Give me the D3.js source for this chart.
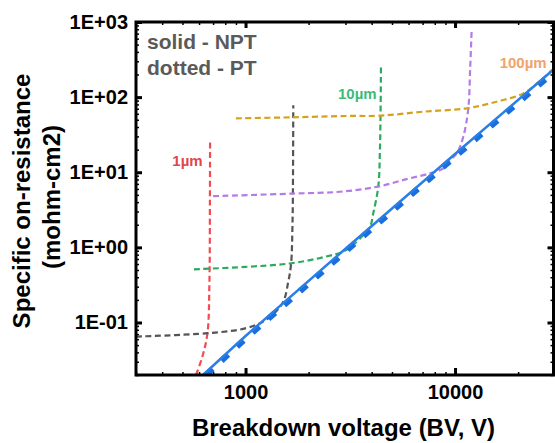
<!DOCTYPE html>
<html>
<head>
<meta charset="utf-8">
<script src="https://cdn.jsdelivr.net/npm/d3@7"></script>
<style>
    body { margin: 0; background: #fff; }
    svg { display: block; font-family: "Liberation Sans", Arial, sans-serif; }
</style>
</head>
<body>
<svg id="chart"></svg>
<script>
// ideal silicon limits (BV in V, Ron in mohm-cm2)
const nptLimit = [[626, 0.02], [1000, 0.066], [3000, 0.96], [10000, 17.5], [30000, 242]];
const ptLimit = [[648, 0.02], [1000, 0.061], [3000, 0.88], [10000, 16.1], [30000, 222]];

// PT curves for a few drift thicknesses
const pt1um = [[580, 0.02], [622, 0.035], [658, 0.072], [672, 0.32], [676, 4.3], [677, 25.5]];
const pt3um = [[300, 0.065], [660, 0.072], [1005, 0.084], [1250, 0.108], [1500, 0.18],
    [1600, 0.35], [1650, 0.61], [1675, 2], [1682, 4.3], [1690, 78]];
const pt10um = [[567, 0.51], [1000, 0.55], [1620, 0.61], [2400, 0.75], [3020, 0.92], [3650, 1.46],
    [3930, 1.88], [4070, 2.84], [4300, 6.4], [4380, 19.8], [4430, 254]];
const pt30um = [[700, 4.8], [1690, 5.2], [2820, 5.5], [4230, 6.4], [5880, 8.1], [7600, 9.7],
    [8800, 11.3], [9460, 14.5], [10200, 17.9], [10950, 29.7], [11570, 71], [11800, 230], [12000, 780]];
const pt100um = [[900, 52.2], [1680, 53.9], [3017, 56.1], [4383, 56.6], [7056, 64], [11370, 71],
    [15800, 86.9], [21180, 112], [25440, 165], [30000, 250]];

const yTickValues = [0.1, 1, 10, 100, 1000];
const yTickLabels = ["1E-01", "1E+00", "1E+01", "1E+02", "1E+03"];
const xTickValues = [1000, 10000];
const xTickLabels = ["1000", "10000"];

const svg = d3.select('#chart')
    .attr('width', 555)
    .attr('height', 443);

svg.append('rect').attr('width', 555).attr('height', 443).attr('fill', '#fff');

const margins = {top: 22, right: 0, bottom: 68, left: 136};
const width = 555 - margins.left - margins.right;
const height = 443 - margins.top - margins.bottom;

const x = d3.scaleLog().domain([300, 30000]).range([0, width]);
const y = d3.scaleLog().domain([0.02, 1000]).range([height, 0]);

const isDecade = v => Math.abs(Math.log10(v) - Math.round(Math.log10(v))) < 1e-6;
const xMinor = x.ticks().filter(v => !isDecade(v));
const yMinor = y.ticks().filter(v => !isDecade(v));

const g = svg.append('g')
    .attr('transform', `translate(${margins.left}, ${margins.top})`);

g.append('clipPath').attr('id', 'plot-clip')
    .append('rect').attr('width', width).attr('height', height);

// axes
function styleAxis(sel, w) {
    sel.select('.domain').remove();
    sel.selectAll('line').attr('stroke', '#000').attr('stroke-width', w);
    sel.attr('font-family', '"Liberation Sans", Arial, sans-serif')
        .attr('font-size', 20)
        .attr('font-weight', 'bold');
    sel.selectAll('text').attr('fill', '#000');
}

const rightX = width - 1.5;

g.append('g').call(d3.axisLeft(y).tickValues(yMinor).tickFormat('').tickSizeInner(-3).tickSizeOuter(0))
    .call(styleAxis, 1.5);
g.append('g').call(d3.axisLeft(y).tickValues(yTickValues).tickFormat((d, i) => yTickLabels[i])
    .tickSizeInner(-6).tickSizeOuter(0).tickPadding(8))
    .call(styleAxis, 3);

g.append('g').attr('transform', `translate(${rightX}, 0)`)
    .call(d3.axisRight(y).tickValues(yMinor).tickFormat('').tickSizeInner(-3).tickSizeOuter(0))
    .call(styleAxis, 1.5);
g.append('g').attr('transform', `translate(${rightX}, 0)`)
    .call(d3.axisRight(y).tickValues(yTickValues).tickFormat('').tickSizeInner(-6).tickSizeOuter(0))
    .call(styleAxis, 3);

g.append('g').attr('transform', `translate(0, ${height})`)
    .call(d3.axisBottom(x).tickValues(xMinor).tickFormat('').tickSizeInner(-3).tickSizeOuter(0))
    .call(styleAxis, 1.5);
g.append('g').attr('transform', `translate(0, ${height})`)
    .call(d3.axisBottom(x).tickValues(xTickValues).tickFormat((d, i) => xTickLabels[i])
        .tickSizeInner(-7).tickSizeOuter(0).tickPadding(10))
    .call(styleAxis, 3);

g.append('g')
    .call(d3.axisTop(x).tickValues(xMinor).tickFormat('').tickSizeInner(-3).tickSizeOuter(0))
    .call(styleAxis, 1.5);
g.append('g')
    .call(d3.axisTop(x).tickValues(xTickValues).tickFormat('').tickSizeInner(-6).tickSizeOuter(0))
    .call(styleAxis, 3);

// curves
const smooth = d3.line()
    .x(d => x(d[0]))
    .y(d => y(d[1]))
    .curve(d3.curveCatmullRom.alpha(0.5));
const straight = d3.line()
    .x(d => x(d[0]))
    .y(d => y(d[1]));

const plot = g.append('g').attr('clip-path', 'url(#plot-clip)');

const curves = [
    {data: pt1um, color: '#f24b52'},
    {data: pt3um, color: '#555555'},
    {data: pt10um, color: '#2eaa5e'},
    {data: pt30um, color: '#b57be6'},
    {data: pt100um, color: '#d4a21c'}
];

plot.selectAll('path.pt').data(curves).enter().append('path')
    .attr('class', 'pt')
    .attr('d', d => smooth(d.data))
    .attr('fill', 'none')
    .attr('stroke', d => d.color)
    .attr('stroke-width', 2.2)
    .attr('stroke-dasharray', '6,3.5');

plot.append('path')
    .attr('d', straight(ptLimit))
    .attr('fill', 'none')
    .attr('stroke', '#1a6fe0')
    .attr('stroke-width', 6)
    .attr('stroke-dasharray', '9,12');

plot.append('path')
    .attr('d', straight(nptLimit))
    .attr('fill', 'none')
    .attr('stroke', '#2a7ee6')
    .attr('stroke-width', 2.5);

// frame
g.append('rect')
    .attr('x', 0).attr('y', 0)
    .attr('width', rightX).attr('height', height)
    .attr('fill', 'none')
    .attr('stroke', '#000')
    .attr('stroke-width', 3);

// thickness labels
const labels = [
    {text: '1µm', bv: 624, ron: 12.2, color: '#e0474c'},
    {text: '10µm', bv: 4227, ron: 93.5, color: '#3dbb78'},
    {text: '100µm', bv: 27390, ron: 242, color: '#f2a36a'}
];
g.selectAll('text.thick').data(labels).enter().append('text')
    .attr('class', 'thick')
    .attr('x', d => x(d.bv))
    .attr('y', d => y(d.ron))
    .attr('text-anchor', 'end')
    .attr('font-size', 15)
    .attr('font-weight', 'bold')
    .attr('fill', d => d.color)
    .text(d => d.text);

// legend note
g.append('text').attr('x', 11).attr('y', 27)
    .attr('font-size', 21).attr('font-weight', 'bold').attr('fill', '#5a5a5a')
    .text('solid - NPT');
g.append('text').attr('x', 11).attr('y', 53)
    .attr('font-size', 21).attr('font-weight', 'bold').attr('fill', '#5a5a5a')
    .text('dotted - PT');

// axis titles
svg.append('text')
    .attr('x', margins.left + width / 2 - 2).attr('y', 436)
    .attr('text-anchor', 'middle')
    .attr('font-size', 24).attr('font-weight', 'bold')
    .text('Breakdown voltage (BV, V)');

svg.append('text')
    .attr('transform', 'translate(29.5, 201) rotate(-90)')
    .attr('text-anchor', 'middle')
    .attr('font-size', 24).attr('font-weight', 'bold')
    .text('Specific on-resistance');
svg.append('text')
    .attr('transform', 'translate(60, 197) rotate(-90)')
    .attr('text-anchor', 'middle')
    .attr('font-size', 24).attr('font-weight', 'bold')
    .text('(mohm-cm2)');
</script>
</body>
</html>
